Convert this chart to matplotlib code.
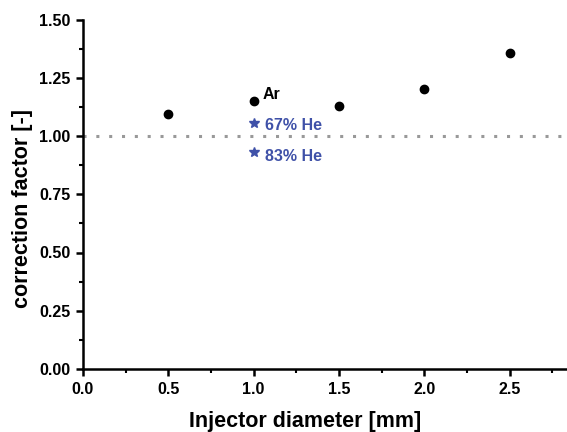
import matplotlib
matplotlib.use("Agg")
import matplotlib.pyplot as plt
from matplotlib.ticker import MultipleLocator

plt.rcParams['font.family'] = ['Liberation Sans', 'DejaVu Sans']
plt.rcParams['font.weight'] = 'bold'

diam_ar = [0.5, 1.0, 1.5, 2.0, 2.5]
cf_ar = [1.093, 1.149, 1.129, 1.203, 1.356]
diam_he = [1.0, 1.0]
cf_he = [1.056, 0.930]
he_labels = ["67% He", "83% He"]

fig = plt.figure(figsize=(5.67, 4.32), dpi=100)
W, H = 567, 432
x0, y0 = 83, 369
xmax = 2.84
px_per_x = 85.33 / 0.5
width_px = xmax * px_per_x
height_px = 369 - 19.5
ax = fig.add_axes([x0 / W, (H - y0) / H, width_px / W, height_px / H])

ax.plot([0, xmax], [1.0, 1.0], linestyle=(0, (1, 3.2)), color='#999999', lw=2.2, zorder=1)
ax.plot(diam_ar, cf_ar, 'o', color='black', ms=6, zorder=3)
ax.plot(diam_he, cf_he, '*', color='#3F51A8', ms=7, zorder=3)

ax.text(1.055, 1.178, "Ar", color='black', fontsize=11.5, fontweight='bold', va='center', ha='left')
for y, lab in zip([1.047, 0.914], he_labels):
    ax.text(1.066, y, lab, color='#3F51A8', fontsize=11.5, fontweight='bold', va='center', ha='left')

ax.set_xlim(0, xmax)
ax.set_ylim(0, 1.5)
ax.xaxis.set_major_locator(MultipleLocator(0.5))
ax.xaxis.set_minor_locator(MultipleLocator(0.25))
ax.yaxis.set_major_locator(MultipleLocator(0.25))
ax.yaxis.set_minor_locator(MultipleLocator(0.125))
ax.xaxis.set_major_formatter(plt.FuncFormatter(lambda v, p: f"{v:.1f}"))
ax.yaxis.set_major_formatter(plt.FuncFormatter(lambda v, p: f"{v:.2f}"))

for s in ['top', 'right']:
    ax.spines[s].set_visible(False)
for s in ['left', 'bottom']:
    ax.spines[s].set_linewidth(1.8)
ax.tick_params(which='major', direction='out', length=5, width=1.8, labelsize=11.5, pad=4)
ax.tick_params(which='minor', direction='out', length=3, width=1.5)
for lab in ax.get_xticklabels() + ax.get_yticklabels():
    lab.set_fontweight('bold')

ax.set_xlabel("Injector diameter [mm]", fontsize=15.5, fontweight='bold')
ax.set_ylabel("correction factor [-]", fontsize=15.5, fontweight='bold')
ax.xaxis.set_label_coords((305 - x0) / width_px, -(422 - y0) / height_px)
ax.yaxis.set_label_coords(-(x0 - 23) / width_px, (369 - 209) / height_px)
ax.xaxis.label.set_va('center')
ax.yaxis.label.set_va('center')

fig.savefig("out.png", dpi=100)
